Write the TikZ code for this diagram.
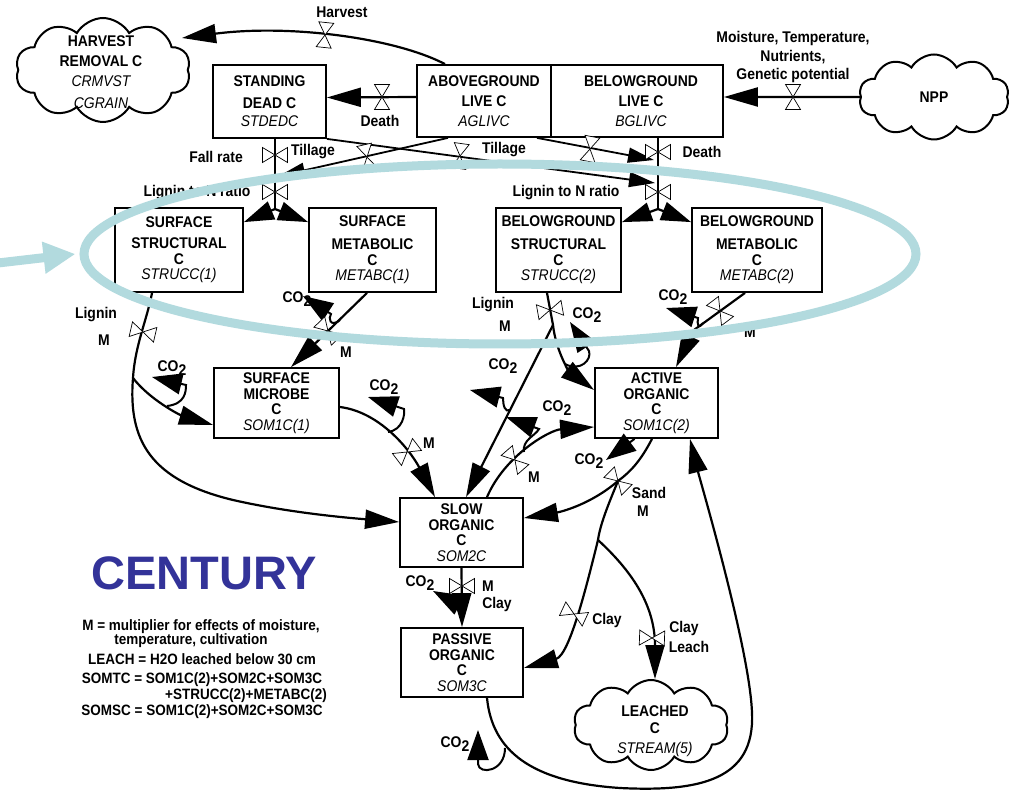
\documentclass[tikz,border=0pt]{standalone}
\usepackage{fontspec}
\setmainfont{Liberation Sans}[FakeStretch=0.9]
\newfontfamily\titlefont{Liberation Sans}
\usetikzlibrary{arrows.meta,shapes.symbols,shapes.geometric,calc}

\definecolor{ringteal}{RGB}{178,218,222}
\definecolor{centuryblue}{RGB}{51,51,153}
\newcommand{\cotwo}{CO\raisebox{-0.55ex}{2}}
\newcommand{\poolvar}[1]{{\mdseries\itshape #1}}

\tikzset{
  valve/.pic={
    \draw[line width=0.7pt,fill=white] (0,0) -- (-7.5,-12.5) -- (7.5,-12.5) -- cycle
                                        (0,0) -- (-7.5,12.5) -- (7.5,12.5) -- cycle;
  },
}

\begin{document}
\begin{tikzpicture}[x=1pt,y=-1pt,
  every node/.style={inner sep=0pt,font=\fontsize{15.5}{15.5}\selectfont\bfseries},
  pool/.style={draw,line width=1.8pt,align=center},
  puff/.style={draw,line width=2pt,cloud,cloud puffs=10,cloud puff arc=120,cloud ignores aspect},
  flow/.style={line width=2.2pt},
  bigarr/.style={-{Triangle[length=34pt,width=19pt]}},
  midarr/.style={-{Triangle[length=26pt,width=15pt]}},
  splitarr/.style={-{Triangle[length=30pt,width=19pt]}},
  co2/.style={line width=2pt,-{Triangle[length=30pt,width=21pt]}},
  lbl/.style={font=\fontsize{15.5}{17}\selectfont\bfseries},
  legend/.style={font=\fontsize{15}{15}\selectfont\bfseries},
]
\fill[white] (0,0) rectangle (1015,791);
\useasboundingbox (0,0) rectangle (1015,791);

% ---------------- pools ----------------
\node[pool,minimum width=113pt,minimum height=73pt] (std) at (269.5,101.5)
  {STANDING\\[6.5pt]DEAD C\\[2.5pt]\poolvar{STDEDC}};
\node[pool,minimum width=134pt,minimum height=72pt] (agl) at (484,101)
  {ABOVEGROUND\\[4.5pt]LIVE C\\[4.5pt]\poolvar{AGLIVC}};
\node[pool,minimum width=172pt,minimum height=72pt] (bgl) at (637,101)
  {\hspace*{8pt}BELOWGROUND\\[4.5pt]\hspace*{8pt}LIVE C\\[4.5pt]\hspace*{8pt}\poolvar{BGLIVC}};

\node[pool,minimum width=128pt,minimum height=84pt] (ss) at (179,250)
  {SURFACE\\[5.5pt]STRUCTURAL\\C\\\poolvar{STRUCC(1)}};
\node[pool,minimum width=127pt,minimum height=84pt] (sm) at (372.5,250)
  {SURFACE\\[7.5pt]METABOLIC\\C\\\poolvar{METABC(1)}};
\node[pool,minimum width=125pt,minimum height=84pt] (bs) at (558.5,250)
  {BELOWGROUND\\[7.5pt]STRUCTURAL\\C\\\poolvar{STRUCC(2)}};
\node[pool,minimum width=130pt,minimum height=84pt] (bm) at (757,250)
  {BELOWGROUND\\[7.5pt]METABOLIC\\C\\\poolvar{METABC(2)}};

\node[pool,minimum width=125pt,minimum height=70pt] (mic) at (276.5,403)
  {SURFACE\\MICROBE\\C\\\poolvar{SOM1C(1)}};
\node[pool,minimum width=123pt,minimum height=70pt] (act) at (656.5,403)
  {ACTIVE\\ORGANIC\\C\\\poolvar{SOM1C(2)}};
\node[pool,minimum width=123pt,minimum height=69pt] (slow) at (461.5,532.5)
  {SLOW\\ORGANIC\\C\\\poolvar{SOM2C}};
\node[pool,minimum width=122pt,minimum height=69pt] (pas) at (462,662.5)
  {PASSIVE\\ORGANIC\\C\\\poolvar{SOM3C}};

% ---------------- sources and sinks ----------------
\node[puff,minimum width=175pt,minimum height=104pt] (harv) at (103,70) {};
\node[align=center] (harvtxt) at (101,72)
  {HARVEST\\[4.5pt]REMOVAL C\\[4.5pt]\poolvar{CRMVST}\\[6pt]\poolvar{CGRAIN}};
\node[puff,minimum width=150pt,minimum height=85pt] (npp) at (934,97) {NPP};
\node[puff,minimum width=155pt,minimum height=90pt] (leach) at (651,725) {};
\node[align=center] (leachtxt) at (655,731) {LEACHED\\[1.5pt]C\\[4.5pt]\poolvar{STREAM(5)}};

% ---------------- junctions and free ends ----------------
\coordinate (harvIn) at (182,38);
\coordinate (ssplit) at (275,209);
\coordinate (bsplit) at (658,209);
\coordinate (aEnd) at (279,176);
\coordinate (bEnd) at (655,183);
\coordinate (cEnd) at (654,160);
\coordinate (sj) at (133,378);
\coordinate (sj2) at (553,325);
\coordinate (bmBend) at (694,330);
\coordinate (aj) at (618,481);
\coordinate (aj2) at (598,540);

% ---------------- plant flows ----------------
\draw[flow,bigarr] (npp.west) -- ([yshift=4pt]bgl.east);
\draw[flow,bigarr] ([yshift=4pt]agl.west) -- ([yshift=4pt]std.east);
\draw[flow,bigarr] ([xshift=-39pt]agl.north) .. controls (395,38) and (290,24) .. (harvIn);

\draw[flow] ([xshift=5.5pt]std.south) -- (ssplit);
\draw[flow,splitarr] (ssplit) -- ([yshift=-15pt]ss.north east);
\draw[flow,splitarr] (ssplit) -- ([yshift=-15pt]sm.north west);
\draw[flow] ([xshift=21pt]bgl.south) -- (bsplit);
\draw[flow,splitarr] (bsplit) -- ([yshift=-15pt]bs.north east);
\draw[flow,splitarr] (bsplit) -- ([yshift=-15pt]bm.north west);

\draw[line width=1.8pt,midarr] ([xshift=-36pt]agl.south) -- (aEnd);
\draw[line width=1.8pt,midarr] (std.south east) -- (bEnd);
\draw[line width=1.8pt,midarr] ([xshift=53pt]agl.south) -- (cEnd);

% ---------------- litter and soil flows ----------------
\draw[flow] ([xshift=-27pt]ss.south) .. controls (147,320) and (135,345) .. (sj);
\draw[flow,bigarr] (sj) .. controls (128,440) and (150,480) .. (233,500)
   .. controls (290,513) and (350,518) .. ([yshift=10.5pt]slow.west);
\draw[flow,bigarr] (sj) .. controls (150,400) and (180,415) .. ([yshift=-22pt]mic.west);

\draw[flow,bigarr] ([xshift=-5.5pt]sm.south) -- ([xshift=14.5pt]mic.north);
\draw[flow,bigarr] ([yshift=-4pt]mic.east) .. controls (380,412) and (410,450) .. ([xshift=-26.5pt]slow.north);

\draw[flow] ([xshift=-11.5pt]bs.south) -- (sj2);
\draw[flow,bigarr] (sj2) -- ([xshift=4.5pt]slow.north);
\draw[flow,bigarr] (sj2) .. controls (556,352) and (570,372) .. ([yshift=13pt]act.west);

\draw[flow,bigarr] ([xshift=-12pt]bm.south) -- (bmBend) -- ([xshift=19.5pt]act.north);

\draw[flow,bigarr] ([xshift=25.5pt]slow.north) .. controls (505,455) and (550,430) .. ([yshift=-24pt]act.west);

\draw[flow] ([xshift=-4.5pt]act.south) .. controls (640,462) and (630,472) .. (aj);
\draw[flow,bigarr] (aj) .. controls (590,505) and (560,512) .. ([yshift=14.5pt]slow.east);
\draw[flow] (aj) .. controls (608,505) and (600,525) .. (aj2);
\draw[flow,bigarr] (aj2) .. controls (588,580) and (570,655) .. ([yshift=-5.5pt]pas.east);
\draw[flow,bigarr] (aj2) .. controls (625,565) and (655,600) .. ([xshift=4pt]leach.north);

\draw[flow,bigarr] (slow.south) -- (pas.north);

\draw[flow,bigarr] ([xshift=25pt]pas.south) .. controls (492,750) and (530,782) .. (620,788)
   .. controls (700,792) and (755,780) .. (752,713)
   .. controls (750,650) and (700,480) .. ([xshift=33.5pt]act.south);

% ---------------- respiration ----------------
\coordinate (co2a-root) at (167,406);  \coordinate (co2a-tip) at (152,377);
\coordinate (co2b-root) at (388,432);  \coordinate (co2b-tip) at (368,397);
\coordinate (co2c-root) at (510,410);  \coordinate (co2c-tip) at (470,390);
\coordinate (co2d-root) at (565,364);  \coordinate (co2d-tip) at (570,322);
\coordinate (co2e-root) at (703,323);  \coordinate (co2e-tip) at (666,308);
\coordinate (co2f-root) at (340,320);  \coordinate (co2f-tip) at (303,296);
\coordinate (co2g-root) at (524,452);  \coordinate (co2g-tip) at (506,417);
\coordinate (co2h-tip) at (606,460);
\coordinate (co2i-root) at (463,607);  \coordinate (co2i-tip) at (433,591);
\coordinate (co2j-root) at (505,748);  \coordinate (co2j-tip) at (478,730);

\draw[co2] (co2a-root) .. controls (185,404) and (186,392) .. (186,385) -- (co2a-tip);
\draw[co2] (co2b-root) .. controls (403,430) and (405,414) .. (404,409) -- (co2b-tip);
\draw[co2] (co2c-root) .. controls (505,413) and (503,405) .. (503,398) -- (co2c-tip);
\draw[co2] (co2d-root) .. controls (580,372) and (592,360) .. (589,351) -- (co2d-tip);
\draw[co2] (co2e-root) .. controls (698,330) and (697,324) .. (698,318) -- (co2e-tip);
\draw[co2] (co2f-root) .. controls (330,328) and (328,318) .. (331,314) -- (co2f-tip);
\draw[co2] (co2g-root) .. controls (522,440) and (535,436) .. (539,429) -- (co2g-tip);
\draw[co2] ([xshift=-22pt]act.south) -- (co2h-tip);
\draw[co2] (co2i-root) -- (co2i-tip);
\draw[co2] (co2j-root) .. controls (505,772) and (479,775) .. (478,764) -- (co2j-tip);

% ---------------- valves ----------------
\pic[rotate=-6] at (325,35) {valve};
\pic at (382,97) {valve};
\pic at (793,97) {valve};
\pic[rotate=90] at (275,155) {valve};
\pic[rotate=90] at (275,192) {valve};
\pic[rotate=90] at (658,152) {valve};
\pic[rotate=90] at (658,192) {valve};
\pic[rotate=13] at (367,157) {valve};
\pic[rotate=-8] at (460,156) {valve};
\pic[rotate=-11] at (590,149) {valve};
\pic[rotate=77] at (143,332) {valve};
\pic[rotate=44] at (328,331) {valve};
\pic[rotate=-80] at (550,310) {valve};
\pic[rotate=37] at (720,311) {valve};
\pic[rotate=-53] at (407,452) {valve};
\pic[rotate=41] at (515,460) {valve};
\pic[rotate=45] at (618,481) {valve};
\pic[rotate=65] at (574,614) {valve};
\pic[rotate=88] at (652,638) {valve};
\pic[rotate=90] at (462,586) {valve};

% ---------------- flow labels ----------------
\node[lbl] (lharv) at (342,12) {Harvest};
\node[lbl] (ldeath1) at (380,121) {Death};
\node[align=center,font=\fontsize{15.5}{18.5}\selectfont\bfseries] (lmoist) at (793,57)
  {Moisture, Temperature,\\Nutrients,\\Genetic potential};
\node[lbl,anchor=east] (lfall) at (243,157) {Fall rate};
\node[lbl] (ltill1) at (313,152) {Tillage};
\node[lbl] (ltill2) at (504,150) {Tillage};
\node[lbl] (ldeath2) at (702,152) {Death};
\node[lbl] (llig1) at (197,193) {Lignin to N ratio};
\node[lbl] (llig2) at (566,193) {Lignin to N ratio};
\node[lbl] (llig3) at (96,315) {Lignin};
\node[lbl] (lm1) at (104,340) {M};
\node[lbl] (llig4) at (493,305) {Lignin};
\node[lbl] (lm2) at (505,326) {M};
\node[lbl] (lm3) at (346,352) {M};
\node[lbl] (lm4) at (429,443) {M};
\node[lbl] (lm5) at (534,477) {M};
\node[lbl] (lm6) at (750,332) {M};
\node[lbl] (lsand) at (649,493) {Sand};
\node[lbl] (lm7) at (643,511) {M};
\node[lbl] (lm8) at (488,586) {M};
\node[lbl] (lclay1) at (497,604) {Clay};
\node[lbl] (lclay2) at (607,620) {Clay};
\node[lbl] (lclay3) at (684,628) {Clay};
\node[lbl] (lleach) at (689,647) {Leach};

\node[lbl] (co2a) at (172,368) {\cotwo};
\node[lbl] (co2b) at (384,387) {\cotwo};
\node[lbl] (co2c) at (503,366) {\cotwo};
\node[lbl] (co2d) at (587,315) {\cotwo};
\node[lbl] (co2e) at (673,297) {\cotwo};
\node[lbl] (co2f) at (297,299) {\cotwo};
\node[lbl] (co2g) at (557,408) {\cotwo};
\node[lbl] (co2h) at (589,461) {\cotwo};
\node[lbl] (co2i) at (420,583) {\cotwo};
\node[lbl] (co2j) at (455,744) {\cotwo};

% ---------------- title and legend ----------------
\node[font=\titlefont\fontsize{47}{50}\selectfont\bfseries,text=centuryblue] (title) at (204,573) {CENTURY};
\node[legend] (leg1) at (201,627) {M = multiplier for effects of moisture,};
\node[legend] (leg2) at (191,641) {temperature, cultivation};
\node[legend] (leg3) at (202,659) {LEACH = H2O leached below 30 cm};
\node[legend] (leg4) at (202,680) {SOMTC = SOM1C(2)+SOM2C+SOM3C};
\node[legend] (leg5) at (246,696) {+STRUCC(2)+METABC(2)};
\node[legend] (leg6) at (202,712) {SOMSC = SOM1C(2)+SOM2C+SOM3C};

% ---------------- highlight ring and pointer ----------------
\node[draw=ringteal,line width=9pt,ellipse,minimum width=832pt,minimum height=180pt] (ring) at (500,254) {};
\coordinate (pointerTail) at (-2,263);
\draw[ringteal,line width=9pt,-{Triangle[length=32pt,width=30pt]}] (pointerTail) -- ([xshift=-4pt]ring.west);
\end{tikzpicture}
\end{document}
